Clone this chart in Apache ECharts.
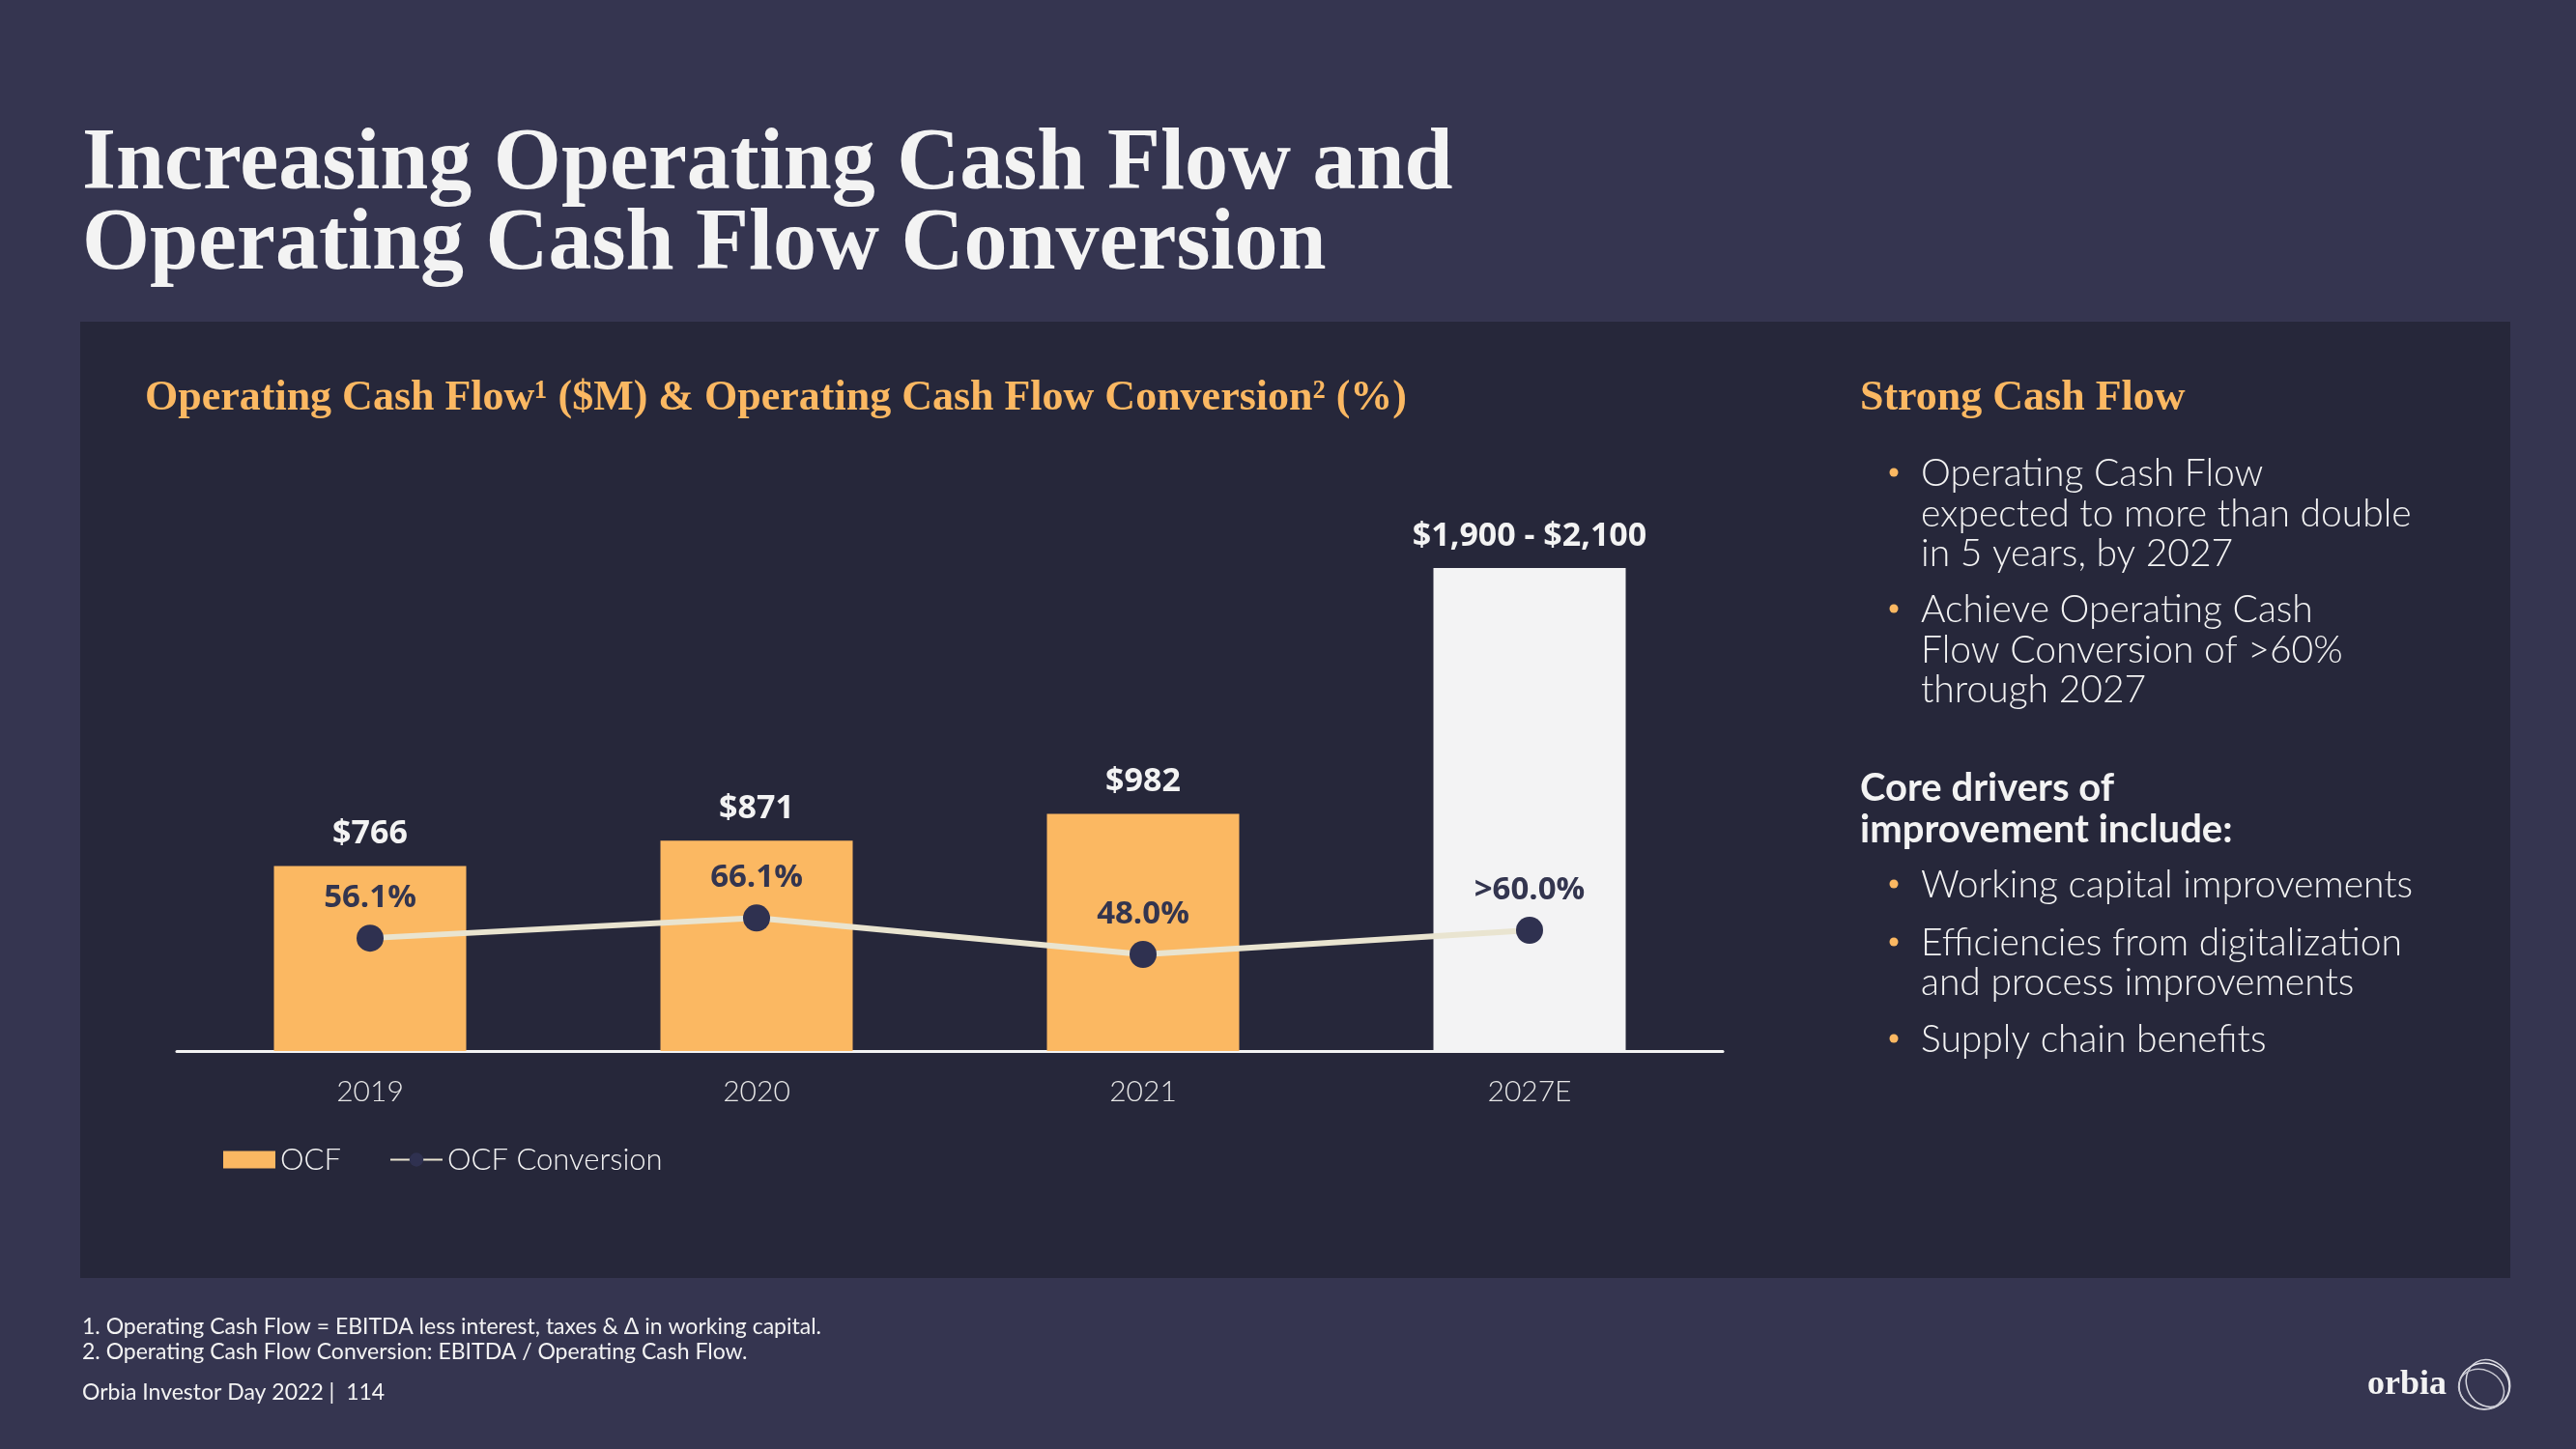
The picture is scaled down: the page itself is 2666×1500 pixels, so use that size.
<!DOCTYPE html>
<html>
<head>
<meta charset="utf-8">
<script src="https://cdn.jsdelivr.net/npm/echarts@6/dist/echarts.min.js"></script>
<style>html,body{margin:0;padding:0;background:#353550;}#c{width:2666px;height:1500px;}</style>
</head>
<body>
<div id="c"></div>
<script>
const categories = ['2019', '2020', '2021', '2027E'];
const ocfValues = [766, 871, 982, 2000];
const ocfLabels = ['$766', '$871', '$982', '$1,900 - $2,100'];
const conversionValues = [56.1, 66.1, 48.0, 60.0];
const conversionLabels = ['56.1%', '66.1%', '48.0%', '>60.0%'];

const SERIF = '"Liberation Serif", "DejaVu Serif", serif';
const SANS = 'Lato, "Noto Sans", sans-serif';
const ORANGE = '#fbb862';
const WHITE = '#f3f3f3';

function txt(x, y, text, font, fill, align) {
  return { type: 'text', x: x, y: y, z: 10,
    style: { text: text, font: font, fill: fill, align: align || 'left', verticalAlign: 'middle' } };
}

const rightLines = [
  [490, 'Operating Cash Flow', true],
  [532, 'expected to more than double', false],
  [573, 'in 5 years, by 2027', false],
  [631, 'Achieve Operating Cash', true],
  [673, 'Flow Conversion of >60%', false],
  [714, 'through 2027', false],
  [916, 'Working capital improvements', true],
  [976, 'Efficiencies from digitalization', true],
  [1017, 'and process improvements', false],
  [1076, 'Supply chain benefits', true]
];

const graphics = [
  { type: 'rect', shape: { x: 83, y: 333, width: 2515, height: 990 }, style: { fill: '#26273a' }, z: -10, silent: true },
  txt(85, 172, 'Increasing Operating Cash Flow and', 'bold 90px ' + SERIF, WHITE),
  txt(85, 255, 'Operating Cash Flow Conversion', 'bold 90px ' + SERIF, WHITE),
  txt(150, 413, 'Operating Cash Flow\u00B9 ($M) & Operating Cash Flow Conversion\u00B2 (%)', 'bold 44px ' + SERIF, ORANGE),
  txt(1925, 413, 'Strong Cash Flow', 'bold 44px ' + SERIF, ORANGE),
  txt(1925, 816, 'Core drivers of', 'bold 40px ' + SANS, WHITE),
  txt(1925, 859, 'improvement include:', 'bold 40px ' + SANS, WHITE),
  txt(85, 1374, '1. Operating Cash Flow = EBITDA less interest, taxes & \u0394 in working capital.', '23px ' + SANS, WHITE),
  txt(85, 1400, '2. Operating Cash Flow Conversion: EBITDA / Operating Cash Flow.', '23px ' + SANS, WHITE),
  txt(85, 1442, 'Orbia Investor Day 2022 |  114', '23px ' + SANS, WHITE),
  txt(2450, 1434, 'orbia', 'bold 36px ' + SERIF, WHITE),
  { type: 'ellipse', shape: { cx: 2571, cy: 1435, rx: 26, ry: 24 }, style: { fill: 'none', stroke: '#e8e8ee', lineWidth: 1.5 }, z: 10 },
  { type: 'ellipse', shape: { cx: 2575, cy: 1432, rx: 22, ry: 25 }, rotation: 0.5, originX: 2575, originY: 1432, style: { fill: 'none', stroke: '#d8d8e0', lineWidth: 1.5 }, z: 10 },
  { type: 'ellipse', shape: { cx: 2568, cy: 1438, rx: 24, ry: 20 }, rotation: -0.4, originX: 2568, originY: 1438, style: { fill: 'none', stroke: '#c8c8d2', lineWidth: 1.5 }, z: 10 }
];
rightLines.forEach(function (l) {
  if (l[2]) graphics.push({ type: 'circle', shape: { cx: 1960, cy: l[0] - 1, r: 4.5 }, style: { fill: ORANGE }, z: 10 });
  graphics.push(txt(1988, l[0], l[1], '300 39px ' + SANS, WHITE));
});

const chart = echarts.init(document.getElementById('c'));
chart.setOption({
  backgroundColor: '#353550',
  animation: false,
  graphic: graphics,
  grid: { left: 183, width: 1600, top: 488, height: 600, containLabel: false },
  legend: {
    left: 226, top: 1180, itemWidth: 54, itemHeight: 18, itemGap: 50,
    textStyle: { color: WHITE, fontFamily: SANS, fontWeight: 300, fontSize: 31, padding: [0, 0, 0, 0] },
    data: [
      { name: 'OCF', icon: 'rect' },
      { name: 'OCF Conversion' }
    ]
  },
  xAxis: {
    type: 'category', data: categories,
    axisLine: { lineStyle: { color: '#f3f3f3', width: 3 } },
    axisTick: { show: false },
    axisLabel: { color: '#e6e6e6', fontFamily: SANS, fontWeight: 300, fontSize: 30, margin: 27 }
  },
  yAxis: [
    { type: 'value', min: 0, max: 2400, show: false, splitLine: { show: false } },
    { type: 'value', min: 0, max: 288, show: false, splitLine: { show: false } }
  ],
  series: [
    {
      name: 'OCF', type: 'bar', barWidth: 199, yAxisIndex: 0,
      itemStyle: { color: ORANGE },
      data: ocfValues.map(function (v, i) {
        return i === 3 ? { value: v, itemStyle: { color: '#f3f3f4' } } : v;
      }),
      label: {
        show: true, position: 'top', distance: 16,
        color: WHITE, fontFamily: '"Open Sans", Roboto, sans-serif', fontWeight: 'bold', fontSize: 34,
        formatter: function (p) { return ocfLabels[p.dataIndex]; }
      }
    },
    {
      name: 'OCF Conversion', type: 'line', yAxisIndex: 1, z: 5,
      data: conversionValues,
      lineStyle: { color: '#e9e4d0', width: 6 },
      itemStyle: { color: '#2f3150' },
      symbol: 'circle', symbolSize: 28,
      label: {
        show: true, position: 'top', distance: 11,
        color: '#33354f', fontFamily: '"Open Sans", Roboto, sans-serif', fontWeight: 'bold', fontSize: 33,
        formatter: function (p) { return conversionLabels[p.dataIndex]; }
      }
    }
  ]
});
</script>
</body>
</html>
